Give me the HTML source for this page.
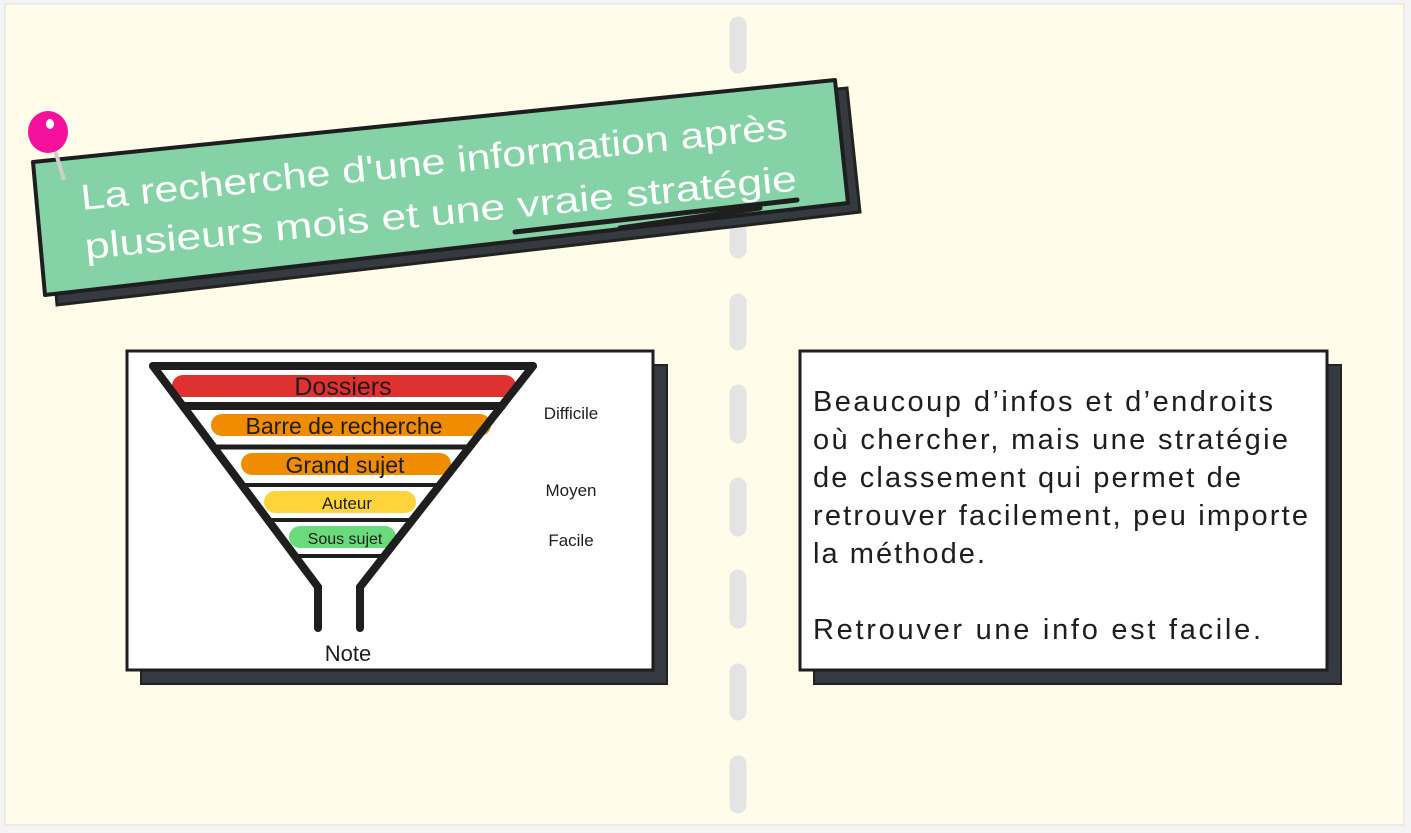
<!DOCTYPE html>
<html><head><meta charset="utf-8"><style>
body{margin:0;background:#fff;}
svg{display:block;font-family:"Liberation Sans",sans-serif;}
</style></head><body>
<svg width="1411" height="833" viewBox="0 0 1411 833">
<rect x="0" y="0" width="1411" height="833" fill="#f4f4f4"/>
<rect x="5" y="4" width="1399" height="821" fill="#fffde9" stroke="#e0e0e0"/>
<g stroke="#e4e4e4" stroke-width="17" stroke-linecap="round">
<line x1="738" y1="25" x2="738" y2="65"/><line x1="738" y1="115" x2="738" y2="160"/>
<line x1="738" y1="205" x2="738" y2="250"/><line x1="738" y1="302" x2="738" y2="342"/>
<line x1="738" y1="393" x2="738" y2="435"/><line x1="738" y1="486" x2="738" y2="528"/>
<line x1="738" y1="578" x2="738" y2="620"/><line x1="738" y1="672" x2="738" y2="712"/>
<line x1="738" y1="764" x2="738" y2="805"/>
</g>
<!-- banner -->
<polygon points="45,170 847,88 860,212 57,305" fill="#343a40" stroke="#222" stroke-width="3"/>
<polygon points="33,162 835,80 848,203 45,295" fill="#85d2a6" stroke="#1e1e1e" stroke-width="4" stroke-linejoin="round"/>
<g fill="#fff" font-size="36">
<text transform="translate(82,210) rotate(-5.8)" x="0" y="0" textLength="710" lengthAdjust="spacingAndGlyphs">La recherche d'une information après</text>
<text transform="translate(86,259) rotate(-5.5)" x="0" y="0" textLength="715" lengthAdjust="spacingAndGlyphs">plusieurs mois et une vraie stratégie</text>
</g>
<path d="M515 232 L797 200 M620 228 L760 208" stroke="#1e1e1e" stroke-width="5" stroke-linecap="round"/>
<line x1="52" y1="140" x2="64" y2="180" stroke="#cfcfcf" stroke-width="4"/>
<ellipse cx="48" cy="132" rx="20" ry="21" fill="#f5119b"/>
<ellipse cx="50" cy="124" rx="4" ry="5" fill="#fff"/>
<!-- left card -->
<rect x="141" y="365" width="526" height="319" fill="#343a40" stroke="#222" stroke-width="2"/>
<rect x="127" y="351" width="526" height="319" fill="#fff" stroke="#1e1e1e" stroke-width="3"/>
<g stroke-linecap="round" stroke-width="22">
<line x1="183" y1="386" x2="505" y2="386" stroke="#e03131"/>
<line x1="222" y1="425" x2="480" y2="425" stroke="#f08c00"/>
<line x1="252" y1="464" x2="440" y2="464" stroke="#f08c00"/>
<line x1="275" y1="502" x2="405" y2="502" stroke="#ffd43b"/>
<line x1="300" y1="537" x2="385" y2="537" stroke="#69db7c"/>
</g>
<g stroke="#1e1e1e" stroke-linecap="round" fill="none">
<line x1="153" y1="366" x2="533" y2="366" stroke-width="8"/>
<line x1="183" y1="406" x2="502" y2="406" stroke-width="8"/>
<line x1="213" y1="447" x2="470" y2="447" stroke-width="5"/>
<line x1="242" y1="485" x2="440" y2="485" stroke-width="4"/>
<line x1="268" y1="520" x2="412" y2="520" stroke-width="4"/>
<line x1="295" y1="556" x2="384" y2="556" stroke-width="4"/>
<polyline points="153,366 318,587 318,628" stroke-width="8"/>
<polyline points="533,366 360,587 360,628" stroke-width="8"/>
</g>
<g fill="#1e1e1e" text-anchor="middle">
<text x="343" y="395" font-size="25">Dossiers</text>
<text x="344" y="434" font-size="23">Barre de recherche</text>
<text x="345" y="473" font-size="23">Grand sujet</text>
<text x="347" y="509" font-size="17">Auteur</text>
<text x="345" y="544" font-size="16">Sous sujet</text>
<text x="348" y="661" font-size="22">Note</text>
<text x="571" y="419" font-size="17">Difficile</text>
<text x="571" y="496" font-size="17">Moyen</text>
<text x="571" y="546" font-size="17">Facile</text>
</g>
<!-- right card -->
<rect x="814" y="365" width="527" height="319" fill="#343a40" stroke="#222" stroke-width="2"/>
<rect x="800" y="351" width="527" height="319" fill="#fff" stroke="#1e1e1e" stroke-width="3"/>
<g fill="#1e1e1e" font-size="29" lengthAdjust="spacing">
<text x="813" y="411" textLength="460">Beaucoup d’infos et d’endroits</text>
<text x="813" y="449" textLength="475">où chercher, mais une stratégie</text>
<text x="813" y="487" textLength="428">de classement qui permet de</text>
<text x="813" y="525" textLength="495">retrouver facilement, peu importe</text>
<text x="813" y="563" textLength="172">la méthode.</text>
<text x="813" y="639" textLength="448">Retrouver une info est facile.</text>
</g>
</svg>
</body></html>
